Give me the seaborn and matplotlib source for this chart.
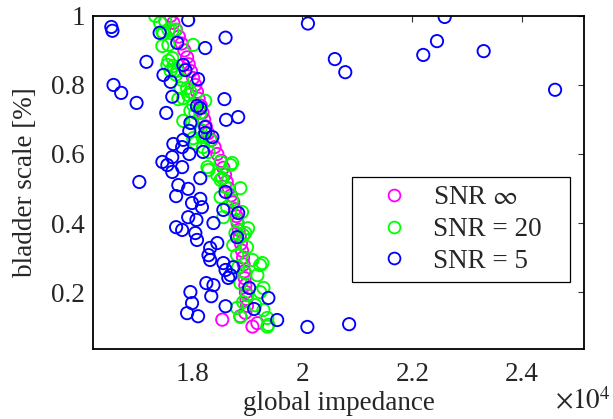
import numpy as np
import pandas as pd
import matplotlib
matplotlib.use('Agg')  # Non-interactive backend
import matplotlib.pyplot as plt
import seaborn as sns
from matplotlib.lines import Line2D

# global impedance in units of 1e4, bladder scale as fraction
# SNR infinity (noise free)
inf_x = [1.760, 1.765, 1.770, 1.775, 1.780, 1.785, 1.790, 1.793, 1.797, 1.801,
         1.805, 1.808, 1.811, 1.815, 1.818, 1.821, 1.824, 1.828, 1.834, 1.840,
         1.845, 1.852, 1.856, 1.859, 1.862, 1.866, 1.870, 1.874, 1.877, 1.880,
         1.882, 1.884, 1.886, 1.888, 1.890, 1.892, 1.893, 1.894, 1.895, 1.896,
         1.897, 1.898, 1.899, 1.896, 1.887, 1.854, 1.909, 1.918]
inf_y = [1.00, 0.98, 0.96, 0.94, 0.92, 0.90, 0.88, 0.86, 0.84, 0.82,
         0.80, 0.78, 0.76, 0.74, 0.72, 0.70, 0.68, 0.66, 0.64, 0.62,
         0.60, 0.58, 0.56, 0.54, 0.52, 0.50, 0.48, 0.46, 0.44, 0.42,
         0.40, 0.38, 0.36, 0.34, 0.32, 0.30, 0.28, 0.26, 0.24, 0.22,
         0.20, 0.18, 0.16, 0.14, 0.13, 0.12, 0.10, 0.11]

# SNR = 20
snr20_x = [1.732, 1.741, 1.750, 1.756, 1.747, 1.763, 1.745, 1.756, 1.801, 1.763,
           1.756, 1.765, 1.760, 1.772, 1.781, 1.778, 1.790, 1.792, 1.783, 1.823,
           1.801, 1.796, 1.805, 1.783, 1.799, 1.801, 1.818, 1.805, 1.832, 1.829,
           1.851, 1.872, 1.829, 1.845, 1.851, 1.860, 1.887, 1.851, 1.872, 1.863,
           1.890, 1.856, 1.881, 1.901, 1.878, 1.892, 1.881, 1.896, 1.874, 1.899,
           1.881, 1.909, 1.923, 1.883, 1.896, 1.918, 1.887, 1.899, 1.923, 1.892,
           1.914, 1.881, 1.929, 1.887, 1.936, 1.938, 1.745, 1.769, 1.754, 1.770,
           1.796, 1.774, 1.814, 1.814, 1.819, 1.827, 1.869, 1.854, 1.927, 1.929,
           1.936]
snr20_y = [1.000, 0.980, 0.985, 0.960, 0.950, 0.957, 0.913, 0.916, 0.916, 0.878,
           0.870, 0.855, 0.841, 0.841, 0.814, 0.791, 0.791, 0.771, 0.762, 0.754,
           0.742, 0.725, 0.719, 0.696, 0.690, 0.646, 0.649, 0.632, 0.640, 0.606,
           0.577, 0.574, 0.554, 0.539, 0.525, 0.504, 0.501, 0.475, 0.467, 0.446,
           0.432, 0.417, 0.409, 0.385, 0.371, 0.365, 0.359, 0.371, 0.336, 0.330,
           0.307, 0.293, 0.278, 0.272, 0.255, 0.249, 0.226, 0.191, 0.200, 0.171,
           0.162, 0.154, 0.148, 0.128, 0.125, 0.105, 0.954, 0.960, 0.858, 0.830,
           0.780, 0.759, 0.719, 0.670, 0.620, 0.562, 0.568, 0.530, 0.284, 0.212,
           0.100]

# SNR = 5
snr5_x = [1.652, 1.654, 1.656, 1.670, 1.698, 1.716, 1.740, 1.792, 1.772, 1.860,
          1.823, 1.747, 1.760, 1.783, 1.787, 1.810, 1.763, 1.858, 1.752, 1.808,
          1.814, 1.861, 1.883, 1.796, 1.823, 1.794, 1.823, 1.836, 1.783, 1.765,
          1.781, 1.794, 1.819, 1.763, 1.745, 1.754, 1.781, 1.703, 1.763, 1.774,
          1.792, 1.770, 1.814, 1.799, 1.814, 1.817, 1.792, 1.807, 1.838, 1.770,
          1.781, 1.805, 1.808, 1.845, 1.832, 1.829, 1.832, 1.856, 1.874, 1.860,
          1.869, 1.865, 1.825, 1.838, 1.796, 1.799, 1.834, 1.790, 1.810, 1.860,
          1.860, 1.856, 1.883, 1.881, 1.903, 1.912, 1.938, 1.954, 2.009, 2.085,
          2.010, 2.059, 2.078, 2.220, 2.245, 2.259, 2.330, 2.460]
snr5_y = [0.968, 0.957, 0.800, 0.777, 0.748, 0.867, 0.951, 0.988, 0.922, 0.937,
          0.907, 0.829, 0.809, 0.858, 0.843, 0.817, 0.766, 0.759, 0.719, 0.739,
          0.733, 0.699, 0.707, 0.690, 0.678, 0.667, 0.661, 0.649, 0.641, 0.629,
          0.620, 0.600, 0.606, 0.591, 0.577, 0.568, 0.562, 0.519, 0.548, 0.510,
          0.499, 0.478, 0.530, 0.458, 0.470, 0.446, 0.417, 0.409, 0.400, 0.388,
          0.380, 0.371, 0.351, 0.342, 0.328, 0.307, 0.293, 0.284, 0.272, 0.264,
          0.249, 0.241, 0.226, 0.220, 0.200, 0.168, 0.188, 0.139, 0.130, 0.159,
          0.490, 0.438, 0.429, 0.359, 0.212, 0.151, 0.183, 0.119, 0.099, 0.107,
          0.978, 0.875, 0.837, 0.887, 0.927, 0.997, 0.898, 0.786]

labels = ['SNR $\\infty$', 'SNR = 20', 'SNR = 5']
colors = ['#ff00ff', '#00ff00', '#0000ff']
fs = 19.5

sns.set_style("white")
plt.rcParams['font.family'] = ['Liberation Serif', 'DejaVu Serif']
plt.rcParams['mathtext.fontset'] = 'stix'

df = pd.concat([
    pd.DataFrame({'impedance': inf_x, 'scale': inf_y, 'snr': labels[0]}),
    pd.DataFrame({'impedance': snr20_x, 'scale': snr20_y, 'snr': labels[1]}),
    pd.DataFrame({'impedance': snr5_x, 'scale': snr5_y, 'snr': labels[2]}),
], ignore_index=True)

fig = plt.figure(figsize=(6.13, 4.19), dpi=100)
ax = fig.add_axes([0.152, 0.167, 0.801, 0.795])

sns.scatterplot(data=df, x='impedance', y='scale', hue='snr',
                palette=dict(zip(labels, colors)), s=78, linewidth=1.35,
                legend=False, ax=ax)
# hollow circles
for coll in ax.collections:
    fc = coll.get_facecolors()
    coll.set_edgecolors(fc)
    coll.set_facecolors('none')

ax.set_xlim(1.619, 2.513)
ax.set_ylim(0.035, 1.0)
ax.set_xticks([1.8, 2.0, 2.2, 2.4])
ax.set_xticklabels(['1.8', '2', '2.2', '2.4'])
ax.set_yticks([0.2, 0.4, 0.6, 0.8, 1.0])
ax.set_yticklabels(['0.2', '0.4', '0.6', '0.8', '1'])
ax.tick_params(direction='in', top=True, right=True, length=4, width=0.8,
               labelsize=fs, color='#333333')
ax.tick_params(axis='x', pad=9)
ax.tick_params(axis='y', pad=6)
for sp in ax.spines.values():
    sp.set_linewidth(1.3)
    sp.set_color('black')

ax.set_xlabel('global impedance', fontsize=fs, labelpad=3)
ax.set_ylabel('bladder scale [%]', fontsize=fs, labelpad=9)
fig.text(0.906, 0.022, '$\\times10^4$', fontsize=fs, ha='left', va='baseline')

handles = [Line2D([], [], linestyle='none', marker='o', markersize=8.5,
                  markerfacecolor='none', markeredgecolor=c, markeredgewidth=1.3)
           for c in colors]
# trailing spaces widen the box on the right like the original
leg_labels = [labels[0], labels[1] + '   ', labels[2]]
leg = ax.legend(handles, leg_labels, loc='lower right', bbox_to_anchor=(0.971, 0.201),
                borderaxespad=0, fontsize=fs, frameon=True, fancybox=False,
                edgecolor='black', framealpha=1, handletextpad=0.15,
                handlelength=2.55, labelspacing=0.25, borderpad=0.3)
leg.get_frame().set_linewidth(0.9)

plt.savefig('out.png', dpi=100)
plt.close()
